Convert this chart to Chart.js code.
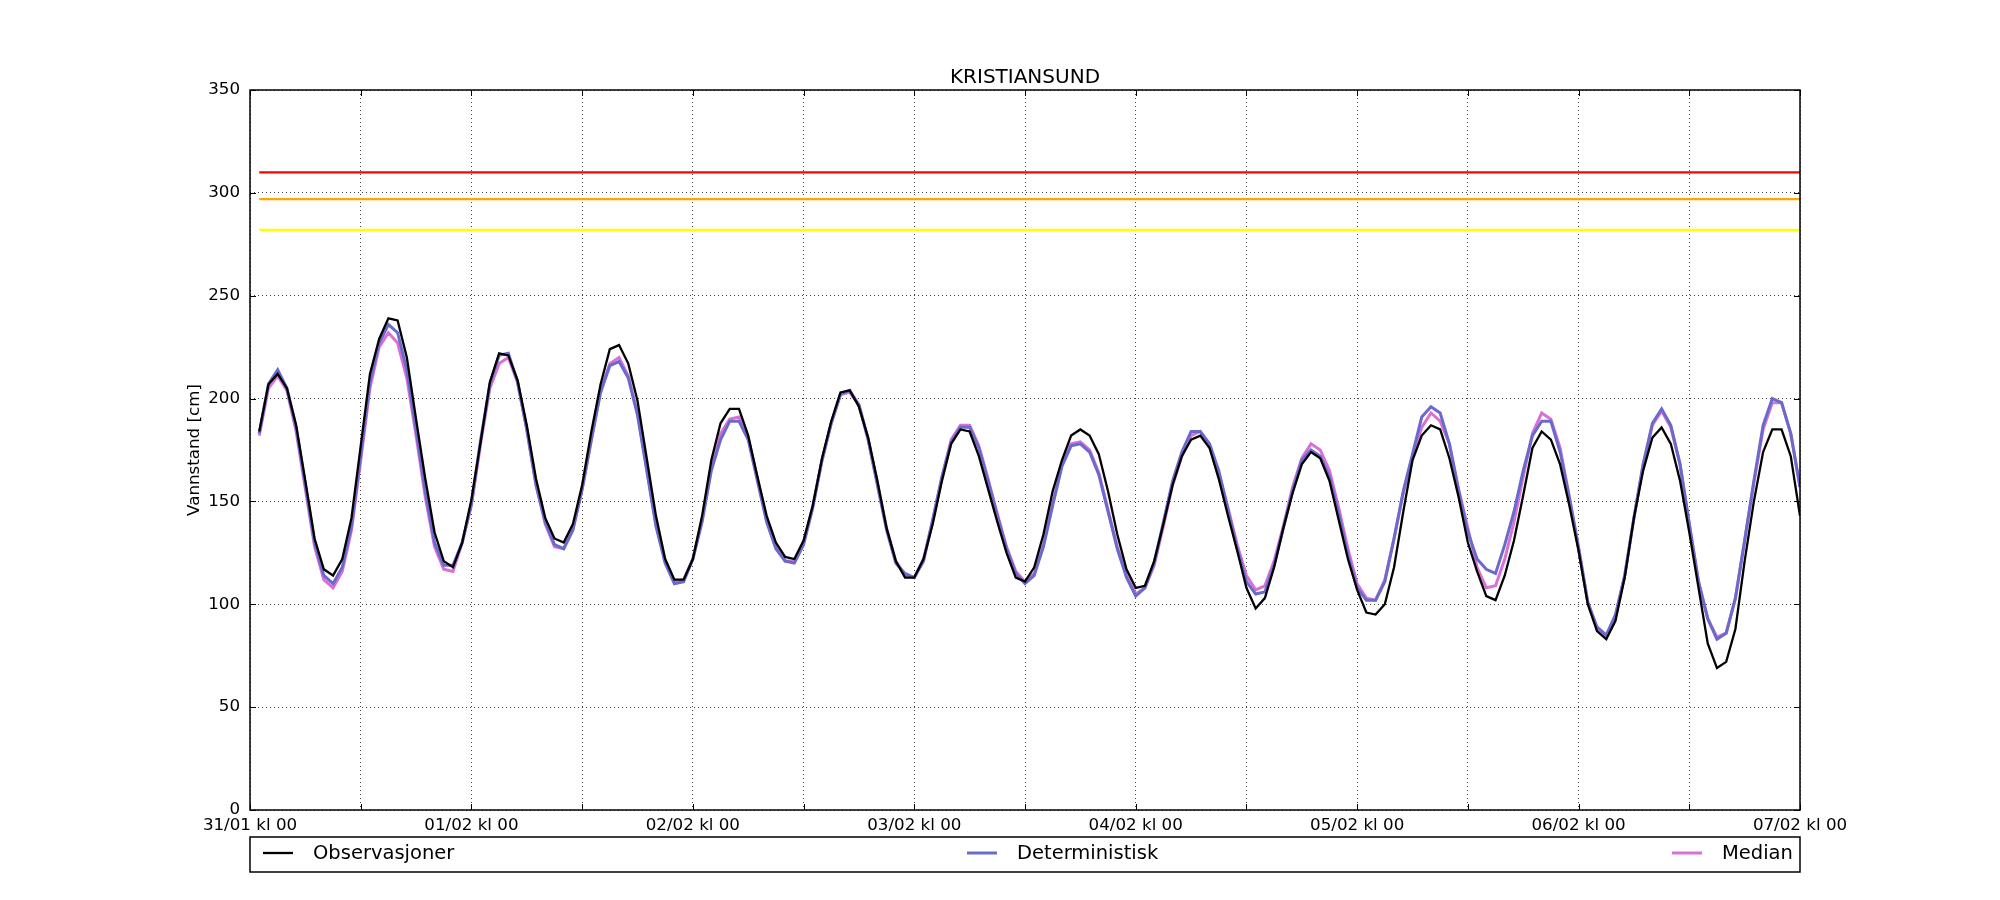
<!DOCTYPE html>
<html>
<head>
<meta charset="utf-8">
<script src="https://cdn.jsdelivr.net/npm/chart.js@4/dist/chart.umd.min.js"></script>
<style>
  html, body { margin: 0; padding: 0; background: #fff; }
  canvas { display: block; }
</style>
</head>
<body>
<canvas id="grafica" width="2000" height="900"></canvas>
<script>
// Vannstand KRISTIANSUND, timesverdier fra 31/01 kl 01 til 07/02 kl 00
const startTime = 1; // første time etter 31/01 kl 00

const tickLabels = ["31/01 kl 00", "01/02 kl 00", "02/02 kl 00", "03/02 kl 00",
  "04/02 kl 00", "05/02 kl 00", "06/02 kl 00", "07/02 kl 00"];

const observasjoner = [
  184, 207, 212, 205, 187, 160, 132, 117, 114, 122, 142, 177, 212, 229, 239, 238, 220, 190, 161, 135, 121, 118, 130, 151,
  179, 208, 222, 221, 209, 187, 161, 142, 132, 130, 139, 158, 184, 207, 224, 226, 217, 199, 171, 143, 122, 112, 112, 122,
  143, 170, 188, 195, 195, 182, 162, 143, 130, 123, 122, 131, 148, 171, 189, 203, 204, 196, 181, 160, 137, 121, 113, 113,
  122, 139, 160, 178, 185, 184, 172, 156, 140, 125, 113, 111, 118, 134, 155, 170, 182, 185, 182, 173, 155, 134, 117, 108,
  109, 121, 139, 158, 172, 180, 182, 176, 161, 143, 126, 108, 98, 103, 118, 137, 154, 168, 174, 171, 160, 141, 122, 107,
  96, 95, 100, 118, 145, 170, 182, 187, 185, 171, 152, 130, 116, 104, 102, 114, 131, 153, 176, 184, 180, 168, 148, 126,
  100, 87, 83, 92, 113, 142, 165, 181, 186, 178, 160, 135, 108, 81, 69, 72, 88, 121, 150, 174, 185, 185, 172, 143
];

const deterministisk = [
  183, 207, 214, 205, 186, 158, 130, 114, 110, 118, 138, 172, 208, 227, 236, 232, 214, 185, 155, 130, 119, 119, 130, 149,
  180, 207, 221, 222, 208, 185, 158, 140, 129, 127, 136, 156, 180, 203, 216, 218, 210, 192, 165, 138, 120, 110, 111, 122,
  140, 165, 180, 189, 189, 180, 160, 140, 127, 121, 120, 129, 147, 170, 188, 202, 204, 197, 180, 158, 136, 120, 115, 113,
  121, 141, 162, 179, 186, 186, 176, 160, 143, 127, 115, 110, 114, 128, 148, 167, 177, 178, 174, 163, 145, 127, 113, 104,
  108, 120, 140, 160, 174, 184, 184, 178, 165, 146, 127, 111, 105, 106, 119, 137, 155, 170, 175, 172, 162, 144, 124, 108,
  102, 102, 111, 132, 155, 173, 191, 196, 193, 178, 155, 135, 122, 117, 115, 129, 145, 165, 182, 189, 189, 174, 152, 127,
  101, 89, 85, 95, 114, 142, 168, 188, 195, 187, 168, 139, 111, 93, 83, 86, 103, 131, 160, 187, 200, 198, 183, 157
];

const median = [
  182, 205, 211, 204, 184, 156, 128, 112, 108, 116, 136, 170, 205, 225, 232, 227, 210, 182, 152, 128, 117, 116, 130, 148,
  178, 205, 217, 220, 208, 185, 158, 139, 128, 127, 137, 156, 180, 204, 217, 220, 211, 193, 166, 139, 121, 111, 112, 122,
  141, 166, 183, 190, 191, 181, 161, 141, 128, 121, 121, 130, 148, 170, 188, 202, 203, 197, 180, 159, 137, 121, 114, 113,
  122, 141, 162, 180, 187, 187, 177, 161, 144, 128, 116, 111, 115, 129, 149, 168, 178, 179, 175, 164, 146, 128, 114, 105,
  108, 119, 138, 158, 172, 182, 184, 177, 164, 147, 129, 114, 107, 109, 121, 138, 157, 171, 178, 175, 165, 147, 127, 110,
  103, 102, 112, 132, 154, 172, 186, 193, 189, 178, 156, 137, 118, 108, 109, 122, 140, 162, 183, 193, 190, 176, 152, 128,
  101, 88, 84, 94, 114, 142, 168, 187, 194, 186, 168, 139, 111, 93, 84, 86, 103, 131, 159, 185, 198, 198, 183, 157
];

// Farenivåer (cm)
const nivaaer = [310, 297, 282];
const nivaaFarger = ["#ff0000", "#ffa500", "#ffff00"];

const fontFamily = "'DejaVu Sans', sans-serif";

// Gjør om verdiene til punkter {x: time, y: verdi}
const tilPunkter = (serie) => serie.map((v, i) => ({ x: startTime + i, y: v }));
const sisteTime = startTime + observasjoner.length - 1;

const datasett = [
  { label: "Observasjoner", data: tilPunkter(observasjoner), borderColor: "#000000", borderWidth: 2.3 },
  { label: "Deterministisk", data: tilPunkter(deterministisk), borderColor: "#6a6acd", borderWidth: 3 },
  { label: "Median", data: tilPunkter(median), borderColor: "#da70d6", borderWidth: 3 },
];
nivaaer.forEach((n, i) => {
  datasett.push({
    label: "nivaa" + i,
    data: [{ x: startTime, y: n }, { x: sisteTime, y: n }],
    borderColor: nivaaFarger[i],
    borderWidth: 2.3,
  });
});

// Ramme, innvendige tick-streker, tittel, y-tekst og tegnforklaring
const rammePlugin = {
  id: "ramme",
  beforeDraw(chart) {
    const ctx = chart.ctx;
    ctx.save();
    ctx.fillStyle = "#ffffff";
    ctx.fillRect(0, 0, chart.width, chart.height);
    ctx.restore();
  },
  afterDraw(chart) {
    const ctx = chart.ctx;
    const a = chart.chartArea;
    const xs = chart.scales.x;
    const ys = chart.scales.y;
    ctx.save();

    // innvendige ticks
    ctx.strokeStyle = "#000";
    ctx.lineWidth = 1;
    ctx.beginPath();
    xs.ticks.forEach((t) => {
      const px = Math.round(xs.getPixelForValue(t.value)) + 0.5;
      ctx.moveTo(px, a.bottom); ctx.lineTo(px, a.bottom - 6);
      ctx.moveTo(px, a.top); ctx.lineTo(px, a.top + 6);
    });
    ys.ticks.forEach((t) => {
      const py = Math.round(ys.getPixelForValue(t.value)) + 0.5;
      ctx.moveTo(a.left, py); ctx.lineTo(a.left + 6, py);
      ctx.moveTo(a.right, py); ctx.lineTo(a.right - 6, py);
    });
    ctx.stroke();

    // ramme
    ctx.lineWidth = 1.5;
    ctx.strokeRect(a.left, a.top, a.right - a.left, a.bottom - a.top);

    // tittel
    ctx.fillStyle = "#000";
    ctx.font = "20px " + fontFamily;
    ctx.textAlign = "center";
    ctx.textBaseline = "alphabetic";
    ctx.fillText("KRISTIANSUND", (a.left + a.right) / 2, a.top - 7);

    // y-aksetekst
    ctx.font = "16.7px " + fontFamily;
    ctx.save();
    ctx.translate(195, (a.top + a.bottom) / 2);
    ctx.rotate(-Math.PI / 2);
    ctx.textBaseline = "middle";
    ctx.fillText("Vannstand [cm]", 0, 0);
    ctx.restore();

    // tegnforklaring (utstrakt under plottet)
    const lTop = 837, lBottom = 872, lMid = 853;
    ctx.lineWidth = 1.5;
    ctx.strokeRect(a.left, lTop, a.right - a.left, lBottom - lTop);
    const poster = [
      { tekst: "Observasjoner", farge: "#000000", bredde: 2.3, x: 263 },
      { tekst: "Deterministisk", farge: "#6a6acd", bredde: 3, x: 967 },
      { tekst: "Median", farge: "#da70d6", bredde: 3, x: 1672 },
    ];
    ctx.font = "19.5px " + fontFamily;
    ctx.textAlign = "left";
    ctx.textBaseline = "middle";
    poster.forEach((p) => {
      ctx.strokeStyle = p.farge;
      ctx.lineWidth = p.bredde;
      ctx.beginPath();
      ctx.moveTo(p.x, lMid);
      ctx.lineTo(p.x + 30, lMid);
      ctx.stroke();
      ctx.fillStyle = "#000";
      ctx.fillText(p.tekst, p.x + 50, lMid + 1);
    });
    ctx.restore();
  },
};

const grid = {
  color: "rgba(0,0,0,0.75)",
  lineWidth: 1,
  drawTicks: false,
};

new Chart(document.getElementById("grafica"), {
  type: "line",
  data: { datasets: datasett },
  options: {
    responsive: false,
    animation: false,
    devicePixelRatio: 1,
    layout: { padding: { left: 0, top: 90, right: 200, bottom: 0 } },
    elements: {
      point: { radius: 0, hoverRadius: 0 },
      line: { tension: 0, fill: false, borderCapStyle: "butt", borderJoinStyle: "miter" },
    },
    plugins: {
      legend: { display: false },
      tooltip: { enabled: false },
      title: { display: false },
    },
    scales: {
      x: {
        type: "linear",
        min: 0,
        max: 168,
        grid: grid,
        border: { display: false, dash: [1, 3] },
        afterFit: (scale) => { scale.height = 90; },
        ticks: {
          stepSize: 12,
          autoSkip: false,
          maxRotation: 0,
          padding: 6,
          color: "#000",
          font: { family: fontFamily, size: 16.7 },
          callback: (value) => (value % 24 === 0 ? tickLabels[value / 24] : ""),
        },
      },
      y: {
        min: 0,
        max: 350,
        grid: grid,
        border: { display: false, dash: [1, 3] },
        afterFit: (scale) => { scale.width = 250; },
        ticks: {
          stepSize: 50,
          padding: 10,
          color: "#000",
          font: { family: fontFamily, size: 16.7 },
        },
      },
    },
  },
  plugins: [rammePlugin],
});
</script>
</body>
</html>
